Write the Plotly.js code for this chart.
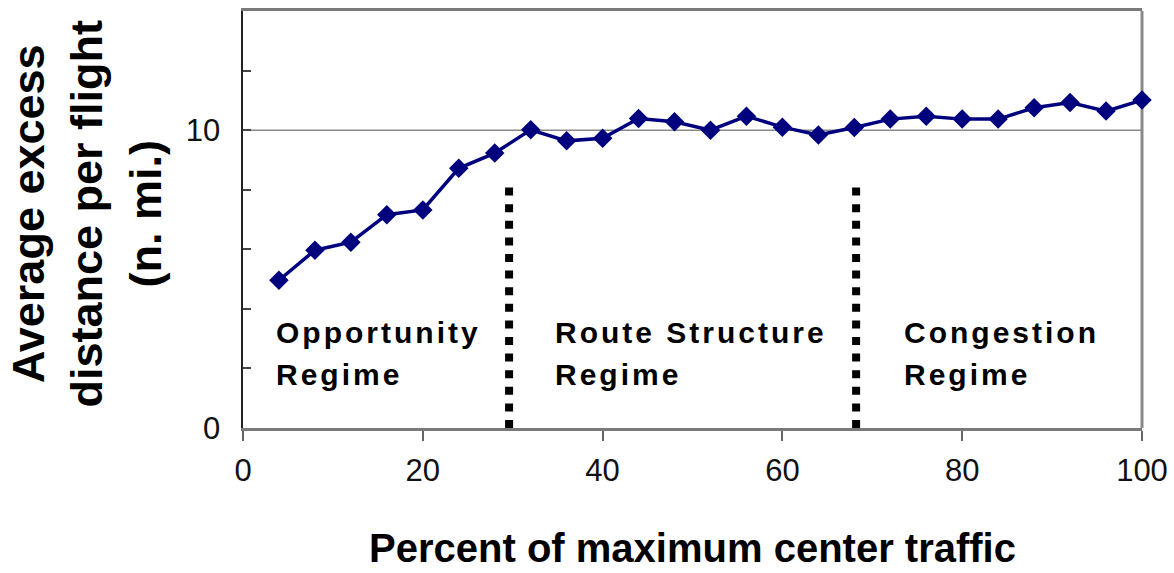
<!DOCTYPE html>
<html>
<head>
<meta charset="utf-8">
<script src="https://cdn.plot.ly/plotly-3.0.1.min.js"></script>
<style>
  html, body { margin: 0; padding: 0; background: #fff; }
  #chart { width: 1174px; height: 573px; }
  .annotation-text { letter-spacing: 3px; }
</style>
</head>
<body>
<div id="chart"></div>
<script>
// ---- Data ----
const trafficPercent = [4, 8, 12, 16, 20, 24, 28, 32, 36, 40, 44, 48, 52, 56, 60, 64, 68, 72, 76, 80, 84, 88, 92, 96, 100];
const excessDistance = [4.96, 5.97, 6.24, 7.16, 7.32, 8.72, 9.23, 10.01, 9.64, 9.73, 10.39, 10.28, 10.0, 10.47, 10.1, 9.84, 10.09, 10.37, 10.47, 10.37, 10.37, 10.75, 10.93, 10.64, 11.01];

const xTickVals = [0, 20, 40, 60, 80, 100];
const yTickVals = [0, 2, 4, 6, 8, 10, 12];
const yTickText = ['0', '', '', '', '', '10', ''];

const regimeBoundaries = [29.6, 68.2];
const regimeBoundaryTop = 8.2;
const referenceLevel = 10;

const regimeNames = ['Opportunity', 'Route Structure', 'Congestion'];
const regimeWord = 'Regime';

const xTitle = 'Percent of maximum center traffic';
const yTitleLines = ['Average excess', 'distance per flight', '(n. mi.)'];

// ---- Layout helpers ----
const FONT = 'Liberation Sans, Arial, Helvetica, sans-serif';
const regimeLeft = [3.45, 34.45, 73.25];

const shapes = [];
shapes.push({type: 'line', xref: 'paper', x0: 0, x1: 1, yref: 'y', y0: referenceLevel, y1: referenceLevel,
  line: {color: '#8a8a8a', width: 1.5}, layer: 'below'});
shapes.push({type: 'line', xref: 'paper', x0: 1, x1: 1, yref: 'paper', y0: 0, y1: 1,
  line: {color: '#8a8a8a', width: 3}, layer: 'below'});
regimeBoundaries.forEach(b => shapes.push({type: 'line', xref: 'x', x0: b, x1: b, yref: 'y', y0: 0, y1: regimeBoundaryTop,
  line: {color: '#000', width: 8, dash: '8px,8.6px'}}));

const annotations = [];
regimeNames.forEach((name, i) => {
  annotations.push({xref: 'x', yref: 'y', x: regimeLeft[i], y: 3.2, xanchor: 'left', yanchor: 'middle',
    text: name, showarrow: false, font: {family: FONT, size: 30, weight: 'bold', color: '#000'}});
  annotations.push({xref: 'x', yref: 'y', x: regimeLeft[i], y: 1.8, xanchor: 'left', yanchor: 'middle',
    text: regimeWord, showarrow: false, font: {family: FONT, size: 30, weight: 'bold', color: '#000'}});
});
// y axis title (no extra letter spacing)
annotations.push({xref: 'paper', yref: 'paper', x: 0, y: 0.5, xanchor: 'center', yanchor: 'middle',
  xshift: -157, yshift: 6, textangle: -90,
  text: yTitleLines.map(t => '<span style="letter-spacing:0px">' + t + '</span>').join('<br>'),
  showarrow: false,
  font: {family: FONT, size: 45, weight: 'bold', color: '#000'}});

const trace = {
  x: trafficPercent, y: excessDistance, type: 'scatter', mode: 'lines+markers',
  cliponaxis: false,
  line: {color: '#00007f', width: 3.5},
  marker: {symbol: 'diamond', size: 15, color: '#00007f', line: {width: 0}},
  hoverinfo: 'x+y'
};

const layout = {
  width: 1174, height: 573,
  margin: {l: 243, r: 32, t: 11, b: 145, pad: 0},
  paper_bgcolor: '#fff', plot_bgcolor: '#fff',
  showlegend: false,
  font: {family: FONT, color: '#000'},
  xaxis: {
    range: [0, 100], tickvals: xTickVals, ticks: 'outside', ticklen: 10, tickwidth: 2, tickcolor: '#666',
    showline: true, linecolor: '#7a7a7a', linewidth: 3, mirror: true,
    showgrid: false, zeroline: false, ticklabelstandoff: 3,
    tickfont: {family: FONT, size: 31, color: '#111'},
    title: {text: xTitle, standoff: 47, font: {family: FONT, size: 40, weight: 'bold', color: '#000'}}
  },
  yaxis: {
    range: [0, 14], tickvals: yTickVals, ticktext: yTickText, ticks: 'inside', ticklen: 8, tickwidth: 2, tickcolor: '#444',
    showline: true, linecolor: '#222', linewidth: 2.5, mirror: false,
    showgrid: false, zeroline: false, ticklabelstandoff: 14,
    tickfont: {family: FONT, size: 31, color: '#111'}
  },
  shapes: shapes,
  annotations: annotations
};

Plotly.newPlot('chart', [trace], layout, {displayModeBar: false, staticPlot: true});
</script>
</body>
</html>
